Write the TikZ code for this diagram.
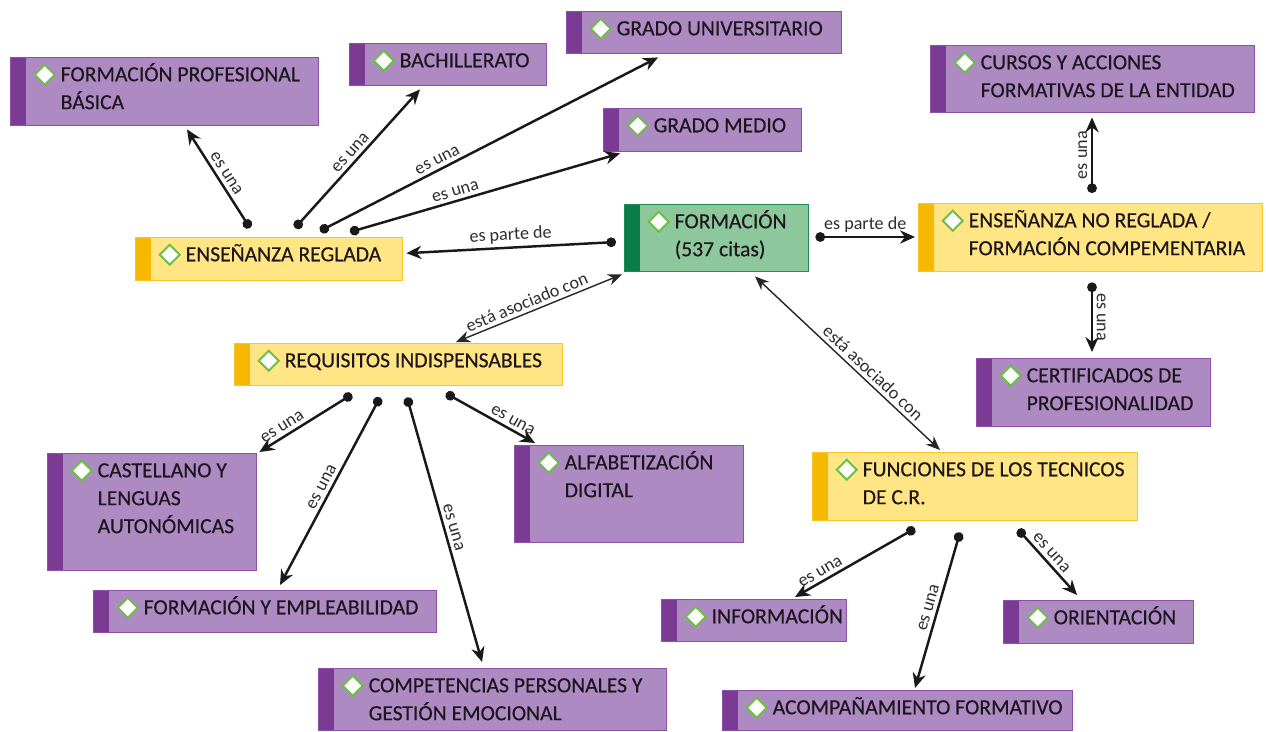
\documentclass[tikz,border=0pt]{standalone}
\usepackage{fontspec}
\setmainfont{Carlito}
\newfontfamily\cajafont{Carlito}[FakeBold=0.35]
\usetikzlibrary{arrows.meta,positioning}

\definecolor{fondomorado}{HTML}{AE8AC2}
\definecolor{franjamorado}{HTML}{7B3A94}
\definecolor{bordemorado}{HTML}{8E4FA8}
\definecolor{fondoamarillo}{HTML}{FFE583}
\definecolor{franjaamarillo}{HTML}{F6B800}
\definecolor{bordeamarillo}{HTML}{F8C52A}
\definecolor{fondoverde}{HTML}{8CC89C}
\definecolor{franjaverde}{HTML}{0B7C47}
\definecolor{bordeverde}{HTML}{1D8C52}
\definecolor{verdediamante}{HTML}{6DBE46}
\definecolor{texto}{HTML}{1E161F}
\definecolor{etiqueta}{HTML}{2E2E2E}

% 1px of the reference = 0.02cm
\newlength\px
\setlength\px{0.02cm}
\newcommand{\cajatxt}[3]{\hspace*{50\px}\parbox[t][#2\px][t]{\dimexpr#1\px-50\px\relax}{\vspace*{4\px}\noindent\begin{tabular}[t]{@{}l@{}}#3\end{tabular}}}

\begin{document}
\begin{tikzpicture}[x=0.02cm, y=-0.02cm,
    caja/.style={anchor=north west, inner sep=0pt, line width=0.8pt, text=texto,
        font=\cajafont\fontsize{12.3}{15.9}\selectfont,
        path picture={
            \fill[#1] (path picture bounding box.north west) rectangle ([xshift=15\px]path picture bounding box.south west);
            \draw[diamante] ([xshift=24\px,yshift=-17\px]path picture bounding box.north west) -- ++(10,-10) -- ++(10,10) -- ++(-10,10) -- cycle;
        }},
    diamante/.style={draw=verdediamante, fill=white, line width=1.1pt},
    morado/.style={caja=franjamorado, draw=bordemorado, fill=fondomorado},
    amarillo/.style={caja=franjaamarillo, draw=bordeamarillo, fill=fondoamarillo},
    verde/.style={caja=franjaverde, draw=bordeverde, fill=fondoverde},
    esuna/.style={line width=1.4pt, draw=black!90, {Circle[length=5.5pt]}-{Stealth[length=8.5pt,width=7.5pt]}},
    asoc/.style={line width=0.8pt, draw=black!85, {Stealth[length=8pt,width=6.5pt]}-{Stealth[length=8pt,width=6.5pt]}},
    etiq/.style={font=\fontsize{10.3}{12}\selectfont, text=etiqueta, sloped, above, inner sep=2pt}]

    % Background and margins
    \path[fill=white] (0,0) rectangle (1266,731);
    \useasboundingbox (0,0) rectangle (1266,731);

    % Concepts
    \node[morado] (fpb) at (10,57) {\cajatxt{308}{68}{FORMACIÓN PROFESIONAL\\BÁSICA}};
    \node[morado] (bach) at (349,43) {\cajatxt{197}{42}{BACHILLERATO}};
    \node[morado] (guni) at (566,11) {\cajatxt{275}{42}{GRADO UNIVERSITARIO}};
    \node[morado] (gmed) at (603,108) {\cajatxt{198}{43}{GRADO MEDIO}};
    \node[verde] (form) at (624,204) {\cajatxt{184}{67}{FORMACIÓN\\(537 citas)}};
    \node[amarillo] (ereg) at (135,237) {\cajatxt{267}{43}{ENSEÑANZA REGLADA}};
    \node[amarillo] (enoreg) at (918,203) {\cajatxt{344}{68}{ENSEÑANZA NO REGLADA /\\FORMACIÓN COMPEMENTARIA}};
    \node[morado] (cursos) at (930,45) {\cajatxt{324}{67}{CURSOS Y ACCIONES\\FORMATIVAS DE LA ENTIDAD}};
    \node[morado] (cert) at (976,358) {\cajatxt{234}{68}{CERTIFICADOS DE\\PROFESIONALIDAD}};
    \node[amarillo] (req) at (234,343) {\cajatxt{328}{42}{REQUISITOS INDISPENSABLES}};
    \node[morado] (cast) at (47,453) {\cajatxt{209}{117}{CASTELLANO Y\\LENGUAS\\AUTONÓMICAS}};
    \node[morado] (alfa) at (514,445) {\cajatxt{229}{97}{ALFABETIZACIÓN\\DIGITAL}};
    \node[amarillo] (func) at (812,452) {\cajatxt{325}{68}{FUNCIONES DE LOS TECNICOS\\DE C.R.}};
    \node[morado] (empl) at (93,590) {\cajatxt{343}{42}{FORMACIÓN Y EMPLEABILIDAD}};
    \node[morado] (comp) at (318,668) {\cajatxt{348}{62}{COMPETENCIAS PERSONALES Y\\GESTIÓN EMOCIONAL}};
    \node[morado] (info) at (661,599) {\cajatxt{185}{42}{INFORMACIÓN}};
    \node[morado] (orie) at (1003,600) {\cajatxt{190}{43}{ORIENTACIÓN}};
    \node[morado] (acomp) at (722,690) {\cajatxt{350}{40}{ACOMPAÑAMIENTO FORMATIVO}};

    % Links from ENSEÑANZA REGLADA
    \draw[esuna] ([xshift=115\px,yshift=9\px]ereg.north west) -- node[etiq, pos=0.5] {es una} ([xshift=177\px,yshift=-3\px]fpb.south west);
    \draw[esuna] ([xshift=160\px,yshift=9\px]ereg.north west) -- node[etiq, pos=0.5] {es una} ([xshift=71\px,yshift=-3\px]bach.south west);
    \draw[esuna] ([xshift=185\px,yshift=6\px]ereg.north west) -- node[etiq, pos=0.36] {es una} ([xshift=92\px,yshift=-3\px]guni.south west);
    \draw[esuna] ([xshift=215\px,yshift=5\px]ereg.north west) -- node[etiq, pos=0.4] {es una} ([xshift=17\px,yshift=-1\px]gmed.south west);

    % Links from FORMACIÓN
    \draw[esuna] ([xshift=-8\px,yshift=-38\px]form.north west) -- node[etiq] {es parte de} ([xshift=3\px,yshift=6\px]ereg.east);
    \draw[esuna] ([xshift=6\px,yshift=-33\px]form.north east) -- node[etiq] {es parte de} ([xshift=-3\px,yshift=-34\px]enoreg.north west);
    \draw[asoc] ([xshift=-2\px,yshift=-2\px]form.south west) -- node[etiq, pos=0.55] {está asociado con} ([xshift=222\px,yshift=1\px]req.north west);
    \draw[asoc] ([xshift=131\px,yshift=-4\px]form.south west) -- node[etiq, pos=0.6] {está asociado con} ([xshift=128\px,yshift=2\px]func.north west);

    % Links from ENSEÑANZA NO REGLADA
    \draw[esuna] ([xshift=174\px,yshift=10\px]enoreg.north west) -- node[etiq] {es una} ([xshift=162\px,yshift=-4\px]cursos.south west);
    \draw[esuna] ([xshift=174\px,yshift=-10\px]enoreg.south west) -- node[etiq] {es una} ([xshift=116\px,yshift=6\px]cert.north west);

    % Links from REQUISITOS
    \draw[esuna] ([xshift=118\px,yshift=-8\px]req.south west) -- node[etiq, pos=0.7] {es una} ([xshift=2\px,yshift=1\px]cast.north east);
    \draw[esuna] ([xshift=146\px,yshift=-11\px]req.south west) -- node[etiq, pos=0.5] {es una} ([xshift=187\px,yshift=5\px]empl.north west);
    \draw[esuna] ([xshift=173\px,yshift=-11\px]req.south west) -- node[etiq, pos=0.5] {es una} ([xshift=164\px,yshift=6\px]comp.north west);
    \draw[esuna] ([xshift=212\px,yshift=-7\px]req.south west) -- node[etiq, pos=0.7] {es una} ([xshift=21\px,yshift=2\px]alfa.north west);

    % Links from FUNCIONES
    \draw[esuna] ([xshift=103\px,yshift=-7\px]func.south west) -- node[etiq, pos=0.75] {es una} ([xshift=134\px,yshift=2\px]info.north west);
    \draw[esuna] ([xshift=148\px,yshift=-11\px]func.south west) -- node[etiq, pos=0.5] {es una} ([xshift=193\px,yshift=2\px]acomp.north west);
    \draw[esuna] ([xshift=206\px,yshift=-8\px]func.south west) -- node[etiq, pos=0.45] {es una} ([xshift=74\px,yshift=5\px]orie.north west);

\end{tikzpicture}
\end{document}
